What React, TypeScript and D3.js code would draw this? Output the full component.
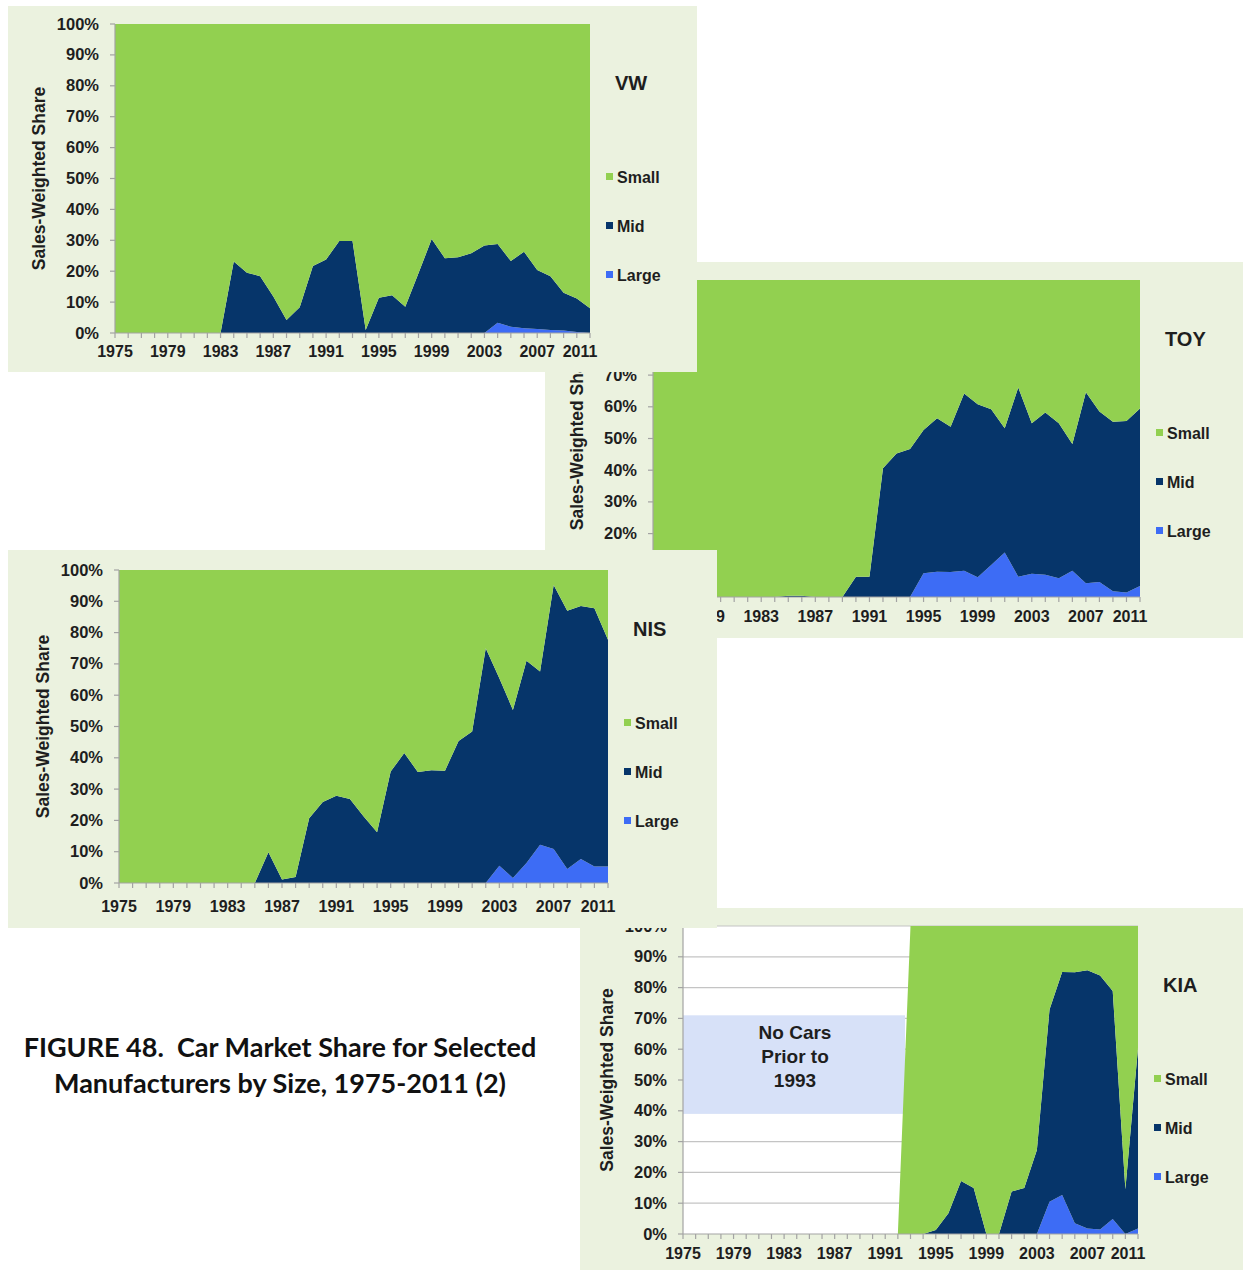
import { area, scaleLinear, stack } from "d3";

const years = [
  1975, 1976, 1977, 1978, 1979, 1980, 1981, 1982, 1983, 1984, 1985, 1986, 1987, 1988, 1989, 1990, 1991, 1992, 1993,
  1994, 1995, 1996, 1997, 1998, 1999, 2000, 2001, 2002, 2003, 2004, 2005, 2006, 2007, 2008, 2009, 2010, 2011,
];
const yearLabels = [1975, 1979, 1983, 1987, 1991, 1995, 1999, 2003, 2007, 2011];
const percentTicks = [0, 10, 20, 30, 40, 50, 60, 70, 80, 90, 100];

// shares in percent, 1975..2011
const vwLarge = [
  0, 0, 0, 0, 0, 0, 0, 0, 0, 0, 0, 0, 0, 0, 0, 0, 0, 0, 0, 0, 0, 0, 0, 0, 0, 0, 0, 0, 0,
  3.3, 2.0, 1.5, 1.3, 1.0, 0.8, 0.3, 0,
];
const vwMid = [
  0, 0, 0, 0, 0, 0, 0, 0, 0,
  23.1, 19.5, 18.4, 11.8, 4.2, 8.3, 21.7, 23.8, 29.8, 29.8,
  1.0, 11.4, 12.2, 8.5, 19.3, 30.4, 24.2, 24.5, 25.8, 28.3,
  25.5, 21.3, 24.8, 19.1, 17.4, 12.2, 10.9, 8.0,
];
const vwSmall = [
  100, 100, 100, 100, 100, 100, 100, 100, 100,
  76.9, 80.5, 81.6, 88.2, 95.8, 91.7, 78.3, 76.2, 70.2, 70.2,
  99.0, 88.6, 87.8, 91.5, 80.7, 69.6, 75.8, 75.5, 74.2, 71.7,
  71.2, 76.7, 73.7, 79.6, 81.6, 87.0, 88.8, 92.0,
];

const toyLarge = [
  0, 0, 0, 0, 0, 0, 0, 0, 0, 0, 0, 0, 0, 0, 0, 0, 0, 0, 0, 0,
  7.5, 8.0, 7.9, 8.3, 6.2, 10.1, 14.0, 6.4, 7.3, 7.0, 5.9, 8.3, 4.3, 4.7, 1.8, 1.4, 3.5,
];
const toyMid = [
  0, 0, 0, 0, 0, 0, 0, 0, 0, 0,
  0.4, 0.4, 0, 0, 0, 6.4, 6.4, 40.6, 45.3, 46.7,
  45.2, 48.4, 45.8, 55.9, 54.6, 49.1, 39.2, 59.7, 47.5, 51.2,
  48.9, 40.0, 60.3, 53.8, 53.5, 54.1, 56.0,
];
const toySmall = [
  100, 100, 100, 100, 100, 100, 100, 100, 100, 100,
  99.6, 99.6, 100, 100, 100, 93.6, 93.6, 59.4, 54.7, 53.3,
  47.3, 43.6, 46.3, 35.8, 39.2, 40.8, 46.8, 33.9, 45.2, 41.8,
  45.2, 51.7, 35.4, 41.5, 44.7, 44.5, 40.5,
];

const nisLarge = [
  0, 0, 0, 0, 0, 0, 0, 0, 0, 0, 0, 0, 0, 0, 0, 0, 0, 0, 0, 0, 0, 0, 0, 0, 0, 0, 0, 0,
  5.5, 1.6, 6.4, 12.2, 10.9, 4.5, 7.7, 5.3, 5.3,
];
const nisMid = [
  0, 0, 0, 0, 0, 0, 0, 0, 0, 0, 0,
  9.8, 1.1, 1.9, 20.7, 25.9, 27.9, 26.8, 21.3, 16.2, 35.6,
  41.5, 35.5, 36.0, 35.9, 45.4, 48.4, 75.0, 59.9, 53.7, 64.6,
  55.4, 84.3, 82.5, 80.8, 82.5, 72.4,
];
const nisSmall = [
  100, 100, 100, 100, 100, 100, 100, 100, 100, 100, 100,
  90.2, 98.9, 98.1, 79.3, 74.1, 72.1, 73.2, 78.7, 83.8, 64.4,
  58.5, 64.5, 64.0, 64.1, 54.6, 51.6, 25.0, 34.6, 44.7, 29.0,
  32.4, 4.8, 13.0, 11.5, 12.2, 22.3,
];

const kiaLarge = [
  0, 0, 0, 0, 0, 0, 0, 0, 0, 0, 0, 0, 0, 0, 0, 0, 0, 0, 0, 0, 0, 0, 0, 0, 0, 0, 0, 0, 0,
  10.5, 12.7, 3.5, 1.8, 1.5, 4.9, 0, 1.8,
];
const kiaMid = [
  0, 0, 0, 0, 0, 0, 0, 0, 0, 0, 0, 0, 0, 0, 0, 0, 0, 0, 0, 0,
  1.3, 6.7, 17.2, 14.9, 0, 0, 13.8, 14.9, 27.3,
  62.4, 72.4, 81.5, 83.8, 82.4, 74.0, 14.5, 58.6,
];
const kiaSmall = [
  0, 0, 0, 0, 0, 0, 0, 0, 0, 0, 0, 0, 0, 0, 0, 0, 0, 0,
  100, 100, 98.7, 93.3, 82.8, 85.1, 100, 100, 86.2, 85.1, 72.7,
  27.1, 14.9, 15.0, 14.4, 16.1, 21.1, 85.5, 39.6,
];

const sizes = ["Large", "Mid", "Small"];
const legendOrder = ["Small", "Mid", "Large"];
const colors: Record<string, string> = { Small: "#92d050", Mid: "#06356a", Large: "#3d6cf5" };

const FONT = "'Liberation Sans', Arial, sans-serif";
const PANEL_BG = "#ebf2df";
const AXIS = "#a3a3a3";
const INK = "#1e1e1e";

type Box = [number, number, number, number];
type Panel = {
  name: string;
  large: number[];
  mid: number[];
  small: number[];
  box: Box;
  plot: [number, number, number, number]; // x0, y0 (top), x1, y1 (bottom)
  labelDy: number;
  grid?: boolean;
};

// drawn back to front: the later panels sit on top of the earlier ones
const panels: Panel[] = [
  { name: "TOY", large: toyLarge, mid: toyMid, small: toySmall, box: [545, 262, 698, 376], plot: [653, 280, 1140, 597], labelDy: 25 },
  { name: "KIA", large: kiaLarge, mid: kiaMid, small: kiaSmall, box: [580, 908, 663, 362], plot: [683, 926, 1138, 1234], labelDy: 25, grid: true },
  { name: "NIS", large: nisLarge, mid: nisMid, small: nisSmall, box: [8, 550, 709, 378], plot: [119, 570, 608, 883], labelDy: 29 },
  { name: "VW", large: vwLarge, mid: vwMid, small: vwSmall, box: [8, 6, 689, 366], plot: [115, 24, 590, 333], labelDy: 24 },
];

// a text whose box lies wholly under a panel drawn later is not visible in the figure
function hidden(covers: Box[], l: number, t: number, r: number, b: number) {
  return covers.some(([bx, by, bw, bh]) => l >= bx && r <= bx + bw && t >= by && b <= by + bh);
}

function ChartPanel({ p, covers }: { p: Panel; covers: Box[] }) {
  const [x0, y0, x1, y1] = p.plot;
  const x = scaleLinear().domain([years[0], years[years.length - 1]]).range([x0, x1]);
  const y = scaleLinear().domain([0, 100]).range([y1, y0]);
  const rows = years.map((year, i) => ({ year, Large: p.large[i], Mid: p.mid[i], Small: p.small[i] }));
  const layers = stack<any>().keys(sizes)(rows);
  const shape = area<any>()
    .x((d) => x(d.data.year))
    .y0((d) => y(d[0]))
    .y1((d) => y(d[1]));
  const clipId = `clip-${p.name}`;
  const midY = (y0 + y1) / 2;

  return (
    <g>
      <rect x={p.box[0]} y={p.box[1]} width={p.box[2]} height={p.box[3]} fill={PANEL_BG} />
      <clipPath id={clipId}>
        <rect x={x0} y={y0} width={x1 - x0} height={y1 - y0} />
      </clipPath>
      <rect x={x0} y={y0} width={x1 - x0} height={y1 - y0} fill="#ffffff" />
      {p.grid &&
        percentTicks.slice(1).map((t) => (
          <line key={t} x1={x0} x2={x1} y1={y(t)} y2={y(t)} stroke="#c4c4c4" strokeWidth={1.2} />
        ))}
      {p.grid && (
        <g>
          <rect x={x0} y={y(71)} width={905 - x0} height={y(39) - y(71)} fill="#d7e1f8" />
          {["No Cars", "Prior to", "1993"].map((line, i) => (
            <text
              key={line}
              x={795}
              y={y(71) + 24 + i * 24}
              textAnchor="middle"
              fontFamily={FONT}
              fontWeight="bold"
              fontSize={19}
              fill={INK}
            >
              {line}
            </text>
          ))}
        </g>
      )}
      <g clipPath={`url(#${clipId})`}>
        {layers.map((layer) => (
          <path key={layer.key} d={shape(layer) ?? ""} fill={colors[layer.key]} />
        ))}
      </g>

      {/* y axis */}
      <line x1={x0} x2={x0} y1={y0} y2={y1} stroke={AXIS} strokeWidth={1.2} />
      {percentTicks.map((t) => (
        <g key={t}>
          <line x1={x0 - 5} x2={x0} y1={y(t)} y2={y(t)} stroke={AXIS} strokeWidth={1.2} />
          {!hidden(covers, x0 - 60, y(t) - 7, x0 - 16, y(t) + 7) && (
            <text
              x={x0 - 16}
              y={y(t) + 5.5}
              textAnchor="end"
              fontFamily={FONT}
              fontWeight="bold"
              fontSize={16.5}
              fill={INK}
            >
              {t}%
            </text>
          )}
        </g>
      ))}
      <text
        transform={`translate(${x0 - 75},${midY}) rotate(-90)`}
        textAnchor="middle"
        dominantBaseline="middle"
        fontFamily={FONT}
        fontWeight="bold"
        fontSize={17.5}
        fill={INK}
      >
        Sales-Weighted Share
      </text>

      {/* x axis */}
      <line x1={x0} x2={x1} y1={y1} y2={y1} stroke={AXIS} strokeWidth={1.2} />
      {years.map((yr) => (
        <line key={yr} x1={x(yr)} x2={x(yr)} y1={y1} y2={y1 + 5} stroke={AXIS} strokeWidth={1.2} />
      ))}
      {yearLabels.map((yr, i) => {
        const cx = x(yr) - (i === yearLabels.length - 1 ? 10 : 0);
        if (hidden(covers, cx - 19, y1 + p.labelDy - 13, cx + 19, y1 + p.labelDy)) return null;
        return (
          <text
            key={yr}
            x={cx}
            y={y1 + p.labelDy}
            textAnchor="middle"
            fontFamily={FONT}
            fontWeight="bold"
            fontSize={16}
            fill={INK}
          >
            {yr}
          </text>
        );
      })}

      {/* title + legend */}
      <text x={x1 + 25} y={y0 + 66} fontFamily={FONT} fontWeight="bold" fontSize={20} fill={INK}>
        {p.name}
      </text>
      {legendOrder.map((key, i) => {
        const ly = y0 + 153 + i * 49;
        return (
          <g key={key}>
            <rect x={x1 + 16} y={ly - 4} width={7} height={7} fill={colors[key]} />
            <text x={x1 + 27} y={ly + 5.5} fontFamily={FONT} fontWeight="bold" fontSize={16} fill={INK}>
              {key}
            </text>
          </g>
        );
      })}
    </g>
  );
}

export default function App() {
  return (
    <svg
      width={1243}
      height={1270}
      viewBox="0 0 1243 1270"
      style={{ position: "absolute", left: 0, top: 0, background: "#ffffff" }}
    >
      {panels.map((p, i) => (
        <ChartPanel key={p.name} p={p} covers={panels.slice(i + 1).map((q) => q.box)} />
      ))}
      <text
        x={280}
        y={1057}
        textAnchor="middle"
        fontFamily="Lato, 'Open Sans', sans-serif"
        fontWeight="bold"
        fontSize={27}
        fill="#111111"
        style={{ whiteSpace: "pre" }}
      >
        {"FIGURE 48.  Car Market Share for Selected"}
      </text>
      <text
        x={280}
        y={1093}
        textAnchor="middle"
        fontFamily="Lato, 'Open Sans', sans-serif"
        fontWeight="bold"
        fontSize={27}
        fill="#111111"
      >
        Manufacturers by Size, 1975-2011 (2)
      </text>
    </svg>
  );
}
